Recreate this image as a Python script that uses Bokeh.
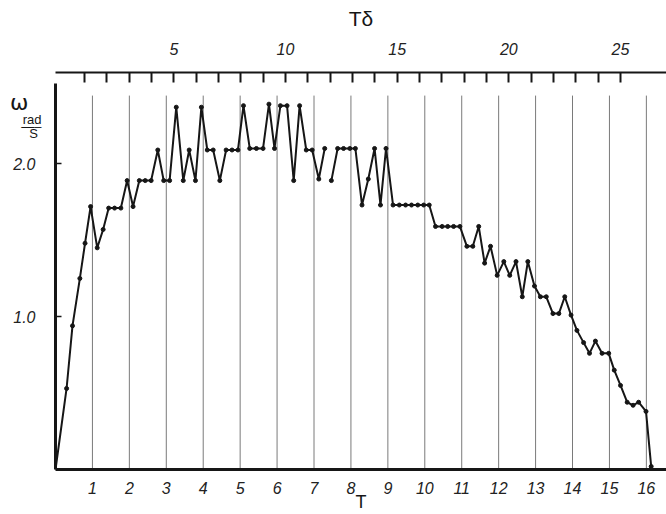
from bokeh.plotting import figure
from bokeh.models import Range1d, LinearAxis, FixedTicker, NumeralTickFormatter, CustomJSTickFormatter
from bokeh.embed import file_html
from bokeh.resources import INLINE

# ---- data ----
# time T (bottom axis) and angular speed omega [rad/s]; the trace is broken between the two segments
t_seg1 = [0.00, 0.30, 0.46, 0.66, 0.80, 0.95, 1.13, 1.29, 1.44, 1.60, 1.77, 1.94, 2.10, 2.27, 2.43,
          2.59, 2.77, 2.93, 3.09, 3.27, 3.46, 3.62, 3.79, 3.95, 4.11, 4.27, 4.45, 4.62, 4.78, 4.94,
          5.09, 5.26, 5.44, 5.62, 5.78, 5.93, 6.09, 6.27, 6.45, 6.61, 6.79, 6.95, 7.13, 7.29]
w_seg1 = [0.00, 0.53, 0.94, 1.25, 1.48, 1.72, 1.45, 1.57, 1.71, 1.71, 1.71, 1.89, 1.72, 1.89, 1.89,
          1.89, 2.09, 1.89, 1.89, 2.37, 1.89, 2.09, 1.89, 2.37, 2.09, 2.09, 1.89, 2.09, 2.09, 2.09,
          2.38, 2.10, 2.10, 2.10, 2.39, 2.10, 2.38, 2.38, 1.89, 2.38, 2.09, 2.09, 1.90, 2.10]
t_seg2 = [7.47, 7.64, 7.80, 7.97, 8.12, 8.30, 8.47, 8.64, 8.80, 8.95, 9.14, 9.31, 9.48, 9.64, 9.81,
          9.97, 10.12, 10.29, 10.47, 10.62, 10.78, 10.95, 11.14, 11.30, 11.46, 11.62, 11.78, 11.96,
          12.14, 12.30, 12.47, 12.64, 12.79, 12.97, 13.13, 13.29, 13.47, 13.63, 13.79, 13.96, 14.12,
          14.30, 14.46, 14.62, 14.80, 14.98, 15.13, 15.30, 15.48, 15.64, 15.79, 15.99, 16.13]
w_seg2 = [1.89, 2.10, 2.10, 2.10, 2.10, 1.73, 1.90, 2.10, 1.73, 2.10, 1.73, 1.73, 1.73, 1.73, 1.73,
          1.73, 1.73, 1.59, 1.59, 1.59, 1.59, 1.59, 1.46, 1.46, 1.59, 1.35, 1.46, 1.27,
          1.36, 1.27, 1.36, 1.13, 1.36, 1.20, 1.13, 1.13, 1.02, 1.02, 1.13, 1.01, 0.91,
          0.83, 0.76, 0.84, 0.76, 0.76, 0.65, 0.55, 0.44, 0.42, 0.44, 0.38, 0.02]

t_ticks = list(range(1, 17))          # bottom axis T
td_ticks = list(range(1, 26))         # top axis T_delta
w_ticks = [1.0, 2.0]                  # left axis omega
grid_top = 2.446                      # vertical guide lines stop below the top scale
w_axis_top = 2.525                    # the drawn omega axis stops short of the top scale

# y-axis title pieces (omega, rad / s) as labels of text-only axes
omega_pos = [2.400]
omega_txt = ["\u00a0ω"]
unit_pos = [2.197, 2.243, 2.289]
unit_txt = ["S\u00a0", "—–", "\u00a0" * 3 + "rad"]

INK = "#161616"
FONT = "Liberation Sans"

p = figure(width=666, height=514, x_range=Range1d(0, 16.545), y_range=Range1d(0, 2.597),
           output_backend="svg", toolbar_location=None,
           min_border_left=55, min_border_right=0, min_border_top=72, min_border_bottom=44)
p.outline_line_color = None
p.xgrid.visible = False
p.ygrid.visible = False
p.background_fill_color = "white"
p.border_fill_color = "white"

# vertical guide lines at every T
p.segment(x0=t_ticks, y0=0, x1=t_ticks, y1=grid_top, line_color="#7a7a7a", line_width=1)

# trace
p.line(t_seg1, w_seg1, line_color=INK, line_width=2)
p.line(t_seg2, w_seg2, line_color=INK, line_width=2)
p.scatter(t_seg1 + t_seg2, w_seg1 + w_seg2, size=4, color=INK)


def style_labels(ax, size, style="italic", font=FONT):
    ax.major_label_text_font = font
    ax.major_label_text_font_style = style
    ax.major_label_text_font_size = size
    ax.major_label_text_color = "#222222"


# bottom axis
xa = p.xaxis[0]
xa.ticker = FixedTicker(ticks=t_ticks)
xa.major_tick_in = 0
xa.major_tick_out = 0
xa.minor_tick_line_color = None
xa.axis_line_width = 3
xa.axis_line_color = INK
xa.major_label_standoff = 12
style_labels(xa, "16px")
xa.axis_label = "T"
xa.axis_label_standoff = -5
xa.axis_label_text_font = FONT
xa.axis_label_text_font_style = "normal"
xa.axis_label_text_font_size = "18px"
xa.axis_label_text_color = INK

# left axis
ya = p.yaxis[0]
ya.ticker = FixedTicker(ticks=w_ticks)
ya.formatter = NumeralTickFormatter(format="0.0")
ya.bounds = (0, w_axis_top)
ya.major_tick_in = 6
ya.major_tick_out = 0
ya.major_tick_line_width = 1.5
ya.major_tick_line_color = INK
ya.minor_tick_line_color = None
ya.axis_line_width = 3
ya.axis_line_color = INK
ya.major_label_standoff = 20
style_labels(ya, "16px")


def text_axis(ticks, texts, size, standoff, font=FONT, style="normal"):
    ax = LinearAxis(ticker=FixedTicker(ticks=ticks),
                    formatter=CustomJSTickFormatter(args=dict(labels=texts), code="return labels[index];"))
    ax.axis_line_color = None
    ax.major_tick_line_color = None
    ax.minor_tick_line_color = None
    ax.major_tick_in = 0
    ax.major_tick_out = 0
    ax.major_label_standoff = standoff
    style_labels(ax, size, style, font)
    ax.major_label_text_color = INK
    p.add_layout(ax, "left")
    return ax


text_axis(omega_pos, omega_txt, "22px", -18, font="DejaVu Sans")
text_axis(unit_pos, unit_txt, "13px", -41)

# top axis: T_delta scale
p.extra_x_ranges = {"td": Range1d(-0.30, 27.06)}
top = LinearAxis(x_range_name="td", ticker=FixedTicker(ticks=td_ticks),
                 formatter=CustomJSTickFormatter(code="return (tick % 5 === 0) ? String(tick) : '';"))
top.major_tick_in = 10
top.major_tick_out = 0
top.major_tick_line_width = 2
top.major_tick_line_color = INK
top.minor_tick_line_color = None
top.axis_line_width = 2
top.axis_line_color = INK
top.major_label_standoff = 18
style_labels(top, "16px")
top.axis_label = "Tδ"
top.axis_label_standoff = 10
top.axis_label_text_font = FONT
top.axis_label_text_font_style = "normal"
top.axis_label_text_font_size = "21px"
top.axis_label_text_color = INK
p.add_layout(top, "above")

open("out.html", "w").write(file_html(p, INLINE))
